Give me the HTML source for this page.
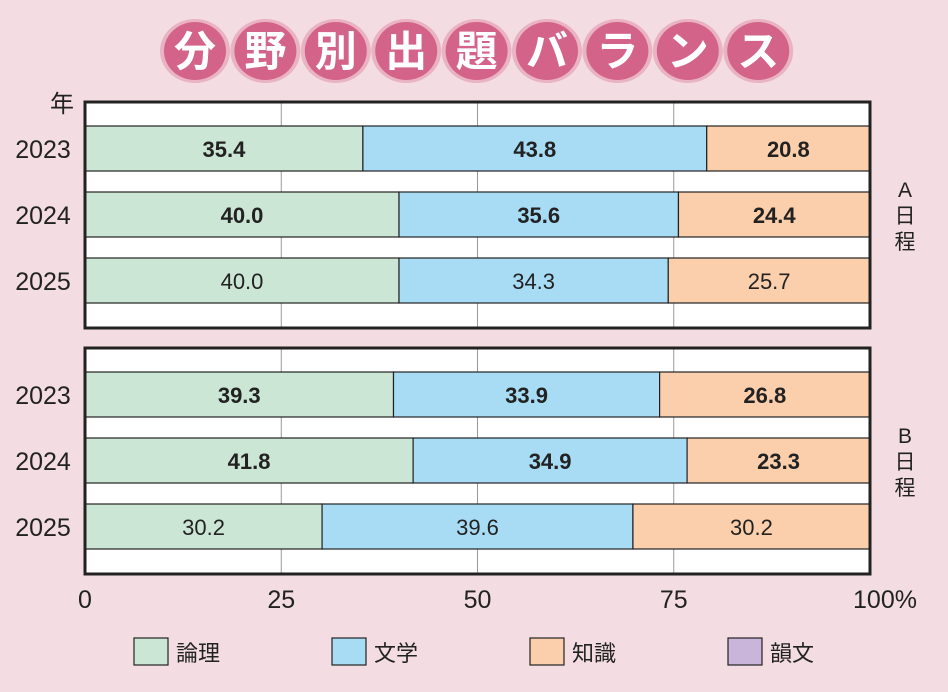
<!DOCTYPE html>
<html><head><meta charset="utf-8"><style>
body{margin:0;background:#f3dde2;}
svg{display:block;font-family:"Liberation Sans","Noto Sans CJK JP",sans-serif;}
</style></head><body>
<svg id="c" width="948" height="692" viewBox="0 0 948 692" xmlns="http://www.w3.org/2000/svg">
<rect width="948" height="692" fill="#f3dde2"/>
<g id="title"></g>
<g id="plot"></g>
</svg>
<script>
const titleChars=["分","野","別","出","題","バ","ラ","ン","ス"];
const years=["2023","2024","2025"];
const panels=["A日程","B日程"];
const ronri=[[35.4,40.0,40.0],[39.3,41.8,30.2]];
const bungaku=[[43.8,35.6,34.3],[33.9,34.9,39.6]];
const chishiki=[[20.8,24.4,25.7],[26.8,23.3,30.2]];
const boldRows=[[true,true,false],[true,true,false]];
const ticks=[0,25,50,75,100];
const tickLabels=["0","25","50","75","100%"];
const legendNames=["論理","文学","知識","韻文"];
const colors=["#cce6d5","#a8dcf5","#fbcfab","#c8b5d9"];

const NS="http://www.w3.org/2000/svg";
function mk(tag,attrs,parent,text){const e=document.createElementNS(NS,tag);for(const k in attrs)e.setAttribute(k,attrs[k]);if(text!==undefined)e.textContent=text;parent.appendChild(e);return e;}
const x0=85,x1=870;
const xs=v=>x0+(x1-x0)*v/100;
const T=document.getElementById('title');
titleChars.forEach((ch,i)=>{
  const cx=195+i*70.4;
  const h=mk('ellipse',{cx:cx,cy:51,rx:35,ry:32,fill:'#eab3c4'},T);
  
  
  const c=mk('ellipse',{cx:cx,cy:51,rx:31,ry:29,fill:'#d4638a'},T);
  
  
  const t=mk('text',{x:cx,y:66,'text-anchor':'middle','font-size':42,'font-weight':'bold',fill:'#fff'},T,ch);
  
  
});
const P=document.getElementById('plot');
const panelTop=[102,348],panelH=226;
const rowOff=[24,90,156],barH=45;
const yl=mk('text',{x:62,y:112,'text-anchor':'middle','font-size':24,fill:'#222'},P,"年");


panels.forEach((pn,p)=>{
  const top=panelTop[p];
  const bg=mk('rect',{x:x0,y:top,width:x1-x0,height:panelH,fill:'#fff'},P);
  
  
  ticks.slice(1,4).forEach(t=>{
    const g=mk('line',{x1:xs(t),x2:xs(t),y1:top,y2:top+panelH,stroke:'#999','stroke-width':1},P);
    
    
  });
  years.forEach((yr,r)=>{
    const y=top+rowOff[r];
    const vals=[ronri[p][r],bungaku[p][r],chishiki[p][r]];
    let acc=0;
    vals.forEach((v,k)=>{
      const b=mk('rect',{x:xs(acc),y:y,width:xs(acc+v)-xs(acc),height:barH,fill:colors[k],stroke:'#222','stroke-width':1.2},P);
      
      
      const lt=mk('text',{x:(xs(acc)+xs(acc+v))/2,y:y+31,'text-anchor':'middle','font-size':22,'font-weight':boldRows[p][r]?'bold':'normal',fill:'#222'},P,v.toFixed(1));
      
      
      acc+=v;
    });
    const yt=mk('text',{x:43,y:y+32,'text-anchor':'middle','font-size':25,fill:'#222'},P,yr);
    
    
  });
  const fr=mk('rect',{x:x0,y:top,width:x1-x0,height:panelH,fill:'none',stroke:'#222','stroke-width':3},P);
  
  
  const chars=[pn[0],pn[1],pn[2]];
  chars.forEach((ch,i)=>{
    const t=mk('text',{x:905,y:top+95+i*26,'text-anchor':'middle','font-size':21,fill:'#222'},P,ch);
    
    
  });
});
ticks.forEach((t,i)=>{
  const tl=mk('text',{x:i===4?885:xs(t),y:608,'text-anchor':'middle','font-size':25,fill:'#222'},P,tickLabels[i]);
  
  
});
legendNames.forEach((n,i)=>{
  const lx=134+i*198;
  const s=mk('rect',{x:lx,y:638,width:34,height:27,fill:colors[i],stroke:'#222','stroke-width':1.2},P);
  
  
  const t=mk('text',{x:lx+42,y:661,'font-size':22,fill:'#222'},P,n);
  
  
});
</script>
</body></html>
